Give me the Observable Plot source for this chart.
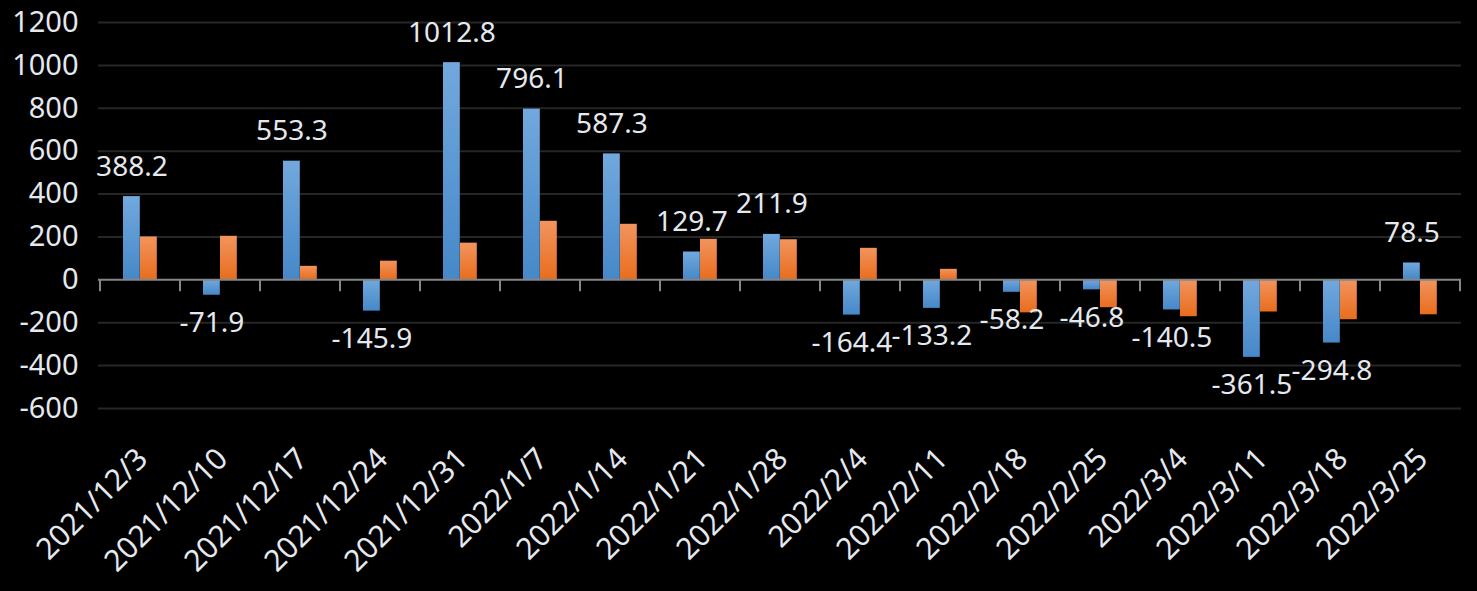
<!DOCTYPE html>
<html>
<head>
<meta charset="utf-8">
<script src="https://cdn.jsdelivr.net/npm/d3@7"></script>
<script src="https://cdn.jsdelivr.net/npm/@observablehq/plot@0.6"></script>
<style>
  html, body { margin: 0; padding: 0; background: #000; }
  #chart { width: 1477px; height: 591px; overflow: hidden; }
</style>
</head>
<body>
<div id="chart"></div>
<script>
const dates = ["2021/12/3","2021/12/10","2021/12/17","2021/12/24","2021/12/31","2022/1/7","2022/1/14","2022/1/21","2022/1/28","2022/2/4","2022/2/11","2022/2/18","2022/2/25","2022/3/4","2022/3/11","2022/3/18","2022/3/25"];
const seriesA = [388.2,-71.9,553.3,-145.9,1012.8,796.1,587.3,129.7,211.9,-164.4,-133.2,-58.2,-46.8,-140.5,-361.5,-294.8,78.5];
const seriesB = [200,203,63,87,171,273,259,189,187,147,49,-154,-130,-172,-150,-186,-163];
const yTicks = [-600,-400,-200,0,200,400,600,800,1000,1200];

const dataA = dates.map((d, i) => ({date: d, value: seriesA[i]}));
const dataB = dates.map((d, i) => ({date: d, value: seriesB[i]}));
const gridTicks = yTicks.filter(v => v !== 0);

const textColor = "#e4e9ef";
const font = "'Noto Sans', 'Open Sans', sans-serif";

const defs = () => {
  const svg = d3.create("svg:defs");
  const gA = svg.append("linearGradient").attr("id", "gradA").attr("x1", 0).attr("y1", 0).attr("x2", 0).attr("y2", 1);
  gA.append("stop").attr("offset", "0%").attr("stop-color", "#72a8dd");
  gA.append("stop").attr("offset", "100%").attr("stop-color", "#4688c8");
  const gB = svg.append("linearGradient").attr("id", "gradB").attr("x1", 0).attr("y1", 0).attr("x2", 0).attr("y2", 1);
  gB.append("stop").attr("offset", "0%").attr("stop-color", "#f2945e");
  gB.append("stop").attr("offset", "100%").attr("stop-color", "#e86d1c");
  return svg.node();
};

const boundaryTicks = (index, scales) => {
  const g = d3.create("svg:g");
  const x = scales.x, y = scales.y;
  const dom = dates;
  const step = x(dom[1]) - x(dom[0]);
  const xs = dom.map(d => x(d)).concat([x(dom[dom.length - 1]) + step]);
  const y0 = y(0);
  g.selectAll("line").data(xs).join("line")
    .attr("x1", d => d).attr("x2", d => d)
    .attr("y1", y0).attr("y2", y0 + 12)
    .attr("stroke", "#868686").attr("stroke-width", 2);
  return g.node();
};

const chart = Plot.plot({
  width: 1477,
  height: 591,
  marginLeft: 98,
  marginRight: 16,
  marginTop: 22,
  marginBottom: 183,
  style: {background: "#000", color: textColor, fontFamily: font, fontSize: "28px"},
  x: {domain: dates, padding: 0, axis: null},
  y: {domain: [-600, 1200], axis: null},
  marks: [
    defs,
    Plot.ruleY(gridTicks, {stroke: "#262626", strokeWidth: 2}),
    Plot.barY(dataA, {x: "date", y: "value", fill: "url(#gradA)", insetLeft: 23, insetRight: 40.2}),
    Plot.barY(dataB, {x: "date", y: "value", fill: "url(#gradB)", insetLeft: 40, insetRight: 23.2}),
    Plot.ruleY([0], {stroke: "#868686", strokeWidth: 2}),
    boundaryTicks,
    Plot.axisY({ticks: yTicks, tickSize: 0, tickPadding: 20, fontSize: 29, label: null, tickFormat: d => String(d), fill: textColor}),
    Plot.text(dataA.filter(d => d.value >= 0), {x: "date", y: "value", text: d => String(d.value), dx: -8.6, dy: -21, lineAnchor: "bottom", fill: textColor, fontSize: 28}),
    Plot.text(dataA.filter(d => d.value < 0), {x: "date", y: "value", text: d => String(d.value), dx: -8.6, dy: 17, lineAnchor: "top", fill: textColor, fontSize: 28}),
    Plot.text(dates, {x: d => d, frameAnchor: "bottom", text: d => d, rotate: -45, textAnchor: "end", lineAnchor: "bottom", dx: 9, dy: 52, fill: textColor, fontSize: 30})
  ]
});
document.getElementById("chart").appendChild(chart);
</script>
</body>
</html>
